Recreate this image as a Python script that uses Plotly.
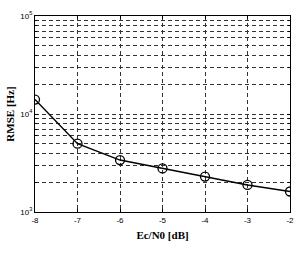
import plotly.graph_objects as go

ebn0 = [-8, -7, -6, -5, -4, -3, -2]
rmse = [14030, 4980, 3390, 2785, 2298, 1888, 1619]
x_ticks = [-8, -7, -6, -5, -4, -3, -2]
y_ticks = [1000, 10000, 100000]
y_ticktext = ["10<sup>3</sup>", "10<sup>4</sup>", "10<sup>5</sup>"]
y_minor = [m * d for d in (1000, 10000) for m in range(2, 10)]

fig = go.Figure()
fig.add_trace(go.Scatter(
    x=ebn0, y=rmse, mode="lines+markers",
    line=dict(color="black", width=1.4),
    marker=dict(symbol="circle-open", size=9, color="black", line=dict(width=1.3)),
    showlegend=False,
))

grid = dict(showgrid=True, gridcolor="#333333", gridwidth=0.8, griddash="4px,3px")

fig.update_layout(
    width=304, height=254,
    margin=dict(l=32, r=10, t=11, b=42),
    paper_bgcolor="white", plot_bgcolor="white",
    font=dict(family="Liberation Sans, Arial", size=8, color="black"),
    xaxis=dict(
        range=[-8, -2], tickvals=x_ticks, ticktext=[str(v) for v in x_ticks],
        ticks="inside", ticklen=3, tickcolor="black", mirror="ticks",
        showline=True, linecolor="black", linewidth=1.2, zeroline=False,
        title=dict(text="<b>Ec/N0 [dB]</b>", font=dict(family="Liberation Serif, Times New Roman", size=11), standoff=7),
        tickfont=dict(size=8),
        **grid,
    ),
    yaxis=dict(
        type="log", range=[3, 5], tickvals=y_ticks, ticktext=y_ticktext,
        ticks="inside", ticklen=3, tickcolor="black", mirror="ticks",
        showline=True, linecolor="black", linewidth=1.2, zeroline=False,
        title=dict(text="<b>RMSE [Hz]</b>", font=dict(family="Liberation Serif, Times New Roman", size=11), standoff=3),
        tickfont=dict(size=8),
        minor=dict(tickvals=y_minor, showgrid=True, gridcolor="#333333", gridwidth=0.8, griddash="4px,3px", ticks="inside", ticklen=2, tickcolor="black"),
        **grid,
    ),
)

fig.write_html("out.html")
